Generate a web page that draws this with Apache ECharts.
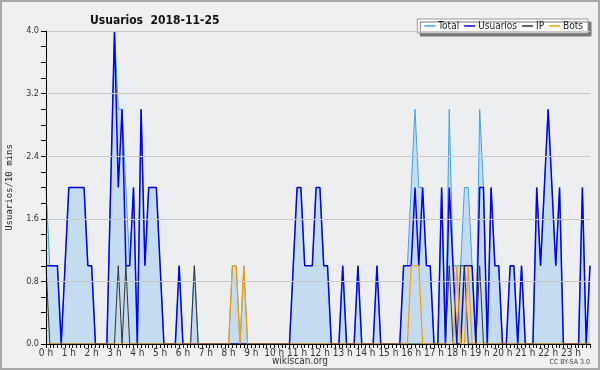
<!DOCTYPE html>
<html>
<head>
<meta charset="utf-8">
<script src="https://cdn.jsdelivr.net/npm/echarts@6/dist/echarts.min.js"></script>
<style>
html,body{margin:0;padding:0;background:#f0f0f0;}
#c{width:600px;height:370px;}
</style>
</head>
<body>
<div id="c"></div>
<script>
// Data: one point every 10 minutes (144 points)
var hourLabels = ["0 h","1 h","2 h","3 h","4 h","5 h","6 h","7 h","8 h","9 h","10 h","11 h","12 h","13 h","14 h","15 h","16 h","17 h","18 h","19 h","20 h","21 h","22 h","23 h"];
var yTicks = [0, 0.8, 1.6, 2.4, 3.2, 4.0];
var total = [2,1,1,1,0,1,2,2,2,2,2,1,1,0,0,0,0,2,4,3,3,2,1,2,0,3,1,2,2,2,1,0,0,0,0,1,0,0,0,1,
0,0,0,0,0,0,0,0,0,1,1,0,1,0,0,0,0,0,0,0,0,0,0,0,0,1,2,2,1,1,1,2,2,1,1,0,0,0,1,0,
0,0,1,0,0,0,0,1,0,0,0,0,0,0,1,1,2,3,2,2,1,1,0,0,2,0,3,1,1,1,2,2,1,0,3,2,0,2,1,1,
0,0,1,1,0,1,0,0,0,2,1,2,3,2,1,2,0,0,0,0,0,2,0,1];
var usuarios = [1,1,1,1,0,1,2,2,2,2,2,1,1,0,0,0,0,2,4,2,3,1,1,2,0,3,1,2,2,2,1,0,0,0,0,1,0,0,0,0,
0,0,0,0,0,0,0,0,0,0,0,0,0,0,0,0,0,0,0,0,0,0,0,0,0,1,2,2,1,1,1,2,2,1,1,0,0,0,1,0,
0,0,1,0,0,0,0,1,0,0,0,0,0,0,1,1,1,2,1,2,1,1,0,0,2,0,2,1,0,0,1,1,1,0,2,2,0,2,1,1,
0,0,1,1,0,1,0,0,0,2,1,2,3,2,1,2,0,0,0,0,0,2,0,1];
var ip = [1,0,0,0,0,0,0,0,0,0,0,0,0,0,0,0,0,0,0,1,0,1,0,0,0,0,0,0,0,0,0,0,0,0,0,0,0,0,0,1,
0,0,0,0,0,0,0,0,0,0,0,0,0,0,0,0,0,0,0,0,0,0,0,0,0,0,0,0,0,0,0,0,0,0,0,0,0,0,0,0,
0,0,0,0,0,0,0,0,0,0,0,0,0,0,0,0,0,0,0,0,0,0,0,0,0,0,1,0,0,1,1,0,0,0,1,0,0,0,0,0,
0,0,0,0,0,0,0,0,0,0,0,0,0,0,0,0,0,0,0,0,0,0,0,0];
var bots = [0,0,0,0,0,0,0,0,0,0,0,0,0,0,0,0,0,0,0,0,0,0,0,0,0,0,0,0,0,0,0,0,0,0,0,0,0,0,0,0,
0,0,0,0,0,0,0,0,0,1,1,0,1,0,0,0,0,0,0,0,0,0,0,0,0,0,0,0,0,0,0,0,0,0,0,0,0,0,0,0,
0,0,0,0,0,0,0,0,0,0,0,0,0,0,0,0,1,1,1,0,0,0,0,0,0,0,0,0,1,0,0,1,0,0,0,0,0,0,0,0,
0,0,0,0,0,0,0,0,0,0,0,0,0,0,0,0,0,0,0,0,0,0,0,0];
var slots = [];
for (var i = 0; i < total.length; i++) slots.push(i);

var FONT = '"DejaVu Sans Condensed", "DejaVu Sans", sans-serif';
var chart = echarts.init(document.getElementById('c'), null, {renderer: 'canvas'});
chart.setOption({
  backgroundColor: '#f0f0f0',
  animation: false,
  title: {
    text: 'Usuarios  2018-11-25',
    left: 85, top: 10,
    textStyle: {fontFamily: FONT, fontSize: 12, fontWeight: 'bold', color: '#111'}
  },
  legend: {
    right: 12, top: 19,
    itemWidth: 11, itemHeight: 1.5, itemGap: 5,
    icon: 'rect',
    padding: [2, 5, 2, 7],
    backgroundColor: '#ffffff',
    borderColor: '#999', borderWidth: 1,
    shadowColor: '#777', shadowBlur: 0, shadowOffsetX: 3, shadowOffsetY: 3,
    textStyle: {fontFamily: FONT, fontSize: 10, color: '#222', padding: [0, 0, 0, -2]},
    data: ['Total', 'Usuarios', 'IP', 'Bots']
  },
  grid: {left: 46, right: 10, top: 31, bottom: 26, show: true, backgroundColor: '#eceef0', borderWidth: 0,
         outerBoundsMode: 'none', containLabel: false},
  xAxis: {
    type: 'category', data: slots, boundaryGap: false, z: 10,
    axisLine: {lineStyle: {color: '#000', width: 1}},
    axisTick: {interval: 0, length: 4, lineStyle: {color: '#000'}},
    axisLabel: {interval: 5, margin: 4, fontFamily: FONT, fontSize: 10, color: '#333',
      formatter: function (v, idx) { return hourLabels[Math.floor(idx / 6)]; }},
    splitLine: {show: false}
  },
  yAxis: {
    type: 'value', min: yTicks[0], max: yTicks[yTicks.length - 1], interval: 0.8, z: 10,
    name: 'Usuarios/10 mins', nameLocation: 'middle', nameGap: 32,
    nameTextStyle: {fontFamily: '"DejaVu Sans Mono", monospace', fontSize: 9, color: '#222'},
    axisLine: {show: true, lineStyle: {color: '#000', width: 1}},
    axisTick: {show: true, inside: false, length: 5, lineStyle: {color: '#000'}},
    minorTick: {show: true, splitNumber: 4, length: 5, lineStyle: {color: '#000'}},
    axisLabel: {margin: 7, fontFamily: FONT, fontSize: 9, color: '#333',
      formatter: function (v) { return v.toFixed(1); }},
    splitLine: {show: true, lineStyle: {color: '#c8c8c8', width: 1}}
  },
  series: [
    {name: 'Total', type: 'line', data: total, showSymbol: false, symbol: 'none',
     itemStyle: {color: '#3fa2f5'}, lineStyle: {color: '#3fa2f5', width: 1},
     areaStyle: {color: '#c4dcf0', opacity: 1}},
    {name: 'Usuarios', type: 'line', data: usuarios, showSymbol: false, symbol: 'none',
     itemStyle: {color: '#0000ff'}, lineStyle: {color: '#0000ff', width: 1.5}},
    {name: 'IP', type: 'line', data: ip, showSymbol: false, symbol: 'none',
     itemStyle: {color: '#333333'}, lineStyle: {color: '#333333', width: 1}},
    {name: 'Bots', type: 'line', data: bots, showSymbol: false, symbol: 'none',
     itemStyle: {color: '#ff9900'}, lineStyle: {color: '#ff9900', width: 1.2}}
  ],
  graphic: [
    {type: 'rect', shape: {x: 1, y: 1, width: 598, height: 368}, style: {fill: 'none', stroke: '#a8a8a8', lineWidth: 2}, silent: true},
    {type: 'text', left: 'center', top: 356, style: {text: 'wikiscan.org', font: '10px ' + FONT, fill: '#333'}},
    {type: 'text', right: 10, top: 359, style: {text: 'CC BY-SA 3.0', font: '7px ' + FONT, fill: '#444'}}
  ]
});
</script>
</body>
</html>
